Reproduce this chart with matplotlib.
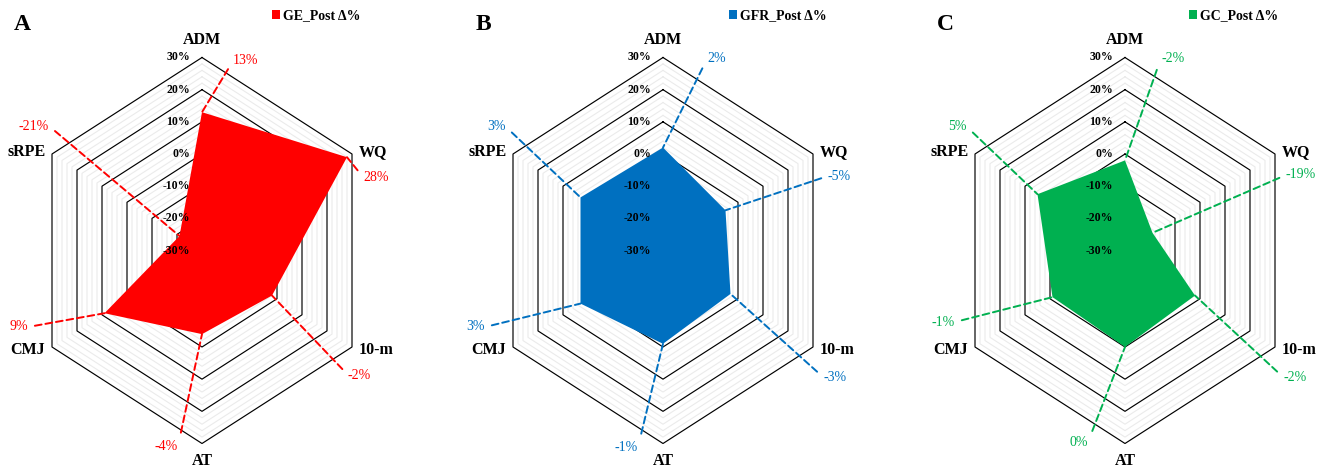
import numpy as np
import matplotlib
matplotlib.use('Agg')
import matplotlib.pyplot as plt
from matplotlib.patches import Patch

# ---------------- data ----------------
categories = ['ADM', 'WQ', '10-m', 'AT', 'CMJ', 'sRPE']
series_names = ['GE_Post Δ%', 'GFR_Post Δ%', 'GC_Post Δ%']
ge_values = [13, 28, -2, -4, 9, -21]
gfr_values = [2, -5, -3, -1, 3, 3]
gc_values = [-2, -19, -2, 0, -1, 5]
panel_letters = ['A', 'B', 'C']
tick_values = [30, 20, 10, 0, -10, -20, -30]
tick_labels = ['30%', '20%', '10%', '0%', '-10%', '-20%', '-30%']
r_min, r_max = -30, 30
major_step, minor_step = 10, 2

series_values = [ge_values, gfr_values, gc_values]
data_labels = [[f'{v}%' for v in vals] for vals in series_values]

# ---------------- style / layout ----------------
colors = ['#FF0000', '#0070C0', '#00B050']
W, H = 1328, 473
SERIF = ['Liberation Serif', 'DejaVu Serif']
panel_cx = [202, 663, 1125]
center_y = 250.5
ry = 193.0
rx = 150.0 / np.cos(np.pi / 6)

# category label offsets (pixels) and alignment
cat_offsets = [(0, 18), (7, 2), (7, -3), (0, -17), (-7, -3), (-6, 2)]
cat_ha = ['center', 'left', 'left', 'center', 'right', 'right']

# data label anchor positions in reference pixels (x, y from top) and alignment
label_pos = [
    [(233, 61), (363, 177), (348, 375), (178, 446), (28, 327), (49, 126)],
    [(707, 59), (828, 176), (823, 377), (638, 447), (485, 327), (506, 127)],
    [(1161, 58), (1286, 175), (1283, 377), (1088, 442), (955, 322), (967, 127)],
]
label_ha = ['left', 'left', 'left', 'right', 'right', 'right']
letter_x = [14, 476, 937]
legend_x = [272, 729, 1189]

fig = plt.figure(figsize=(W / 100, H / 100), dpi=100)

n = len(categories)
theta = np.arange(n) * 2 * np.pi / n
theta_closed = np.append(theta, theta[0])

for p in range(3):
    cx = panel_cx[p]
    rect = [(cx - rx) / W, (H - (center_y + ry)) / H, 2 * rx / W, 2 * ry / H]
    ax = fig.add_axes(rect, projection='polar')
    ax.set_aspect('auto')
    ax.set_theta_zero_location('N')
    ax.set_theta_direction(-1)
    ax.set_ylim(r_min, r_max)
    ax.grid(False)
    ax.set_xticks([])
    ax.set_yticks([])
    ax.spines['polar'].set_visible(False)
    ax.patch.set_visible(False)

    # hexagonal grid
    for r in np.arange(r_min + minor_step, r_max + 0.1, minor_step):
        if abs(r % major_step) < 1e-9:
            continue
        ax.plot(theta_closed, [r] * (n + 1), color='#ebebeb', lw=0.8,
                zorder=1, clip_on=False)
    for r in np.arange(r_min + major_step, r_max + 0.1, major_step):
        ax.plot(theta_closed, [r] * (n + 1), color='black', lw=0.85,
                zorder=2, clip_on=False)

    vals = series_values[p]
    ax.fill(theta_closed, list(vals) + [vals[0]], color=colors[p], lw=0,
            zorder=3, label=series_names[p], clip_on=False)

    # radial tick labels
    for tv, tl in zip(tick_values, tick_labels):
        ax.annotate(tl, xy=(0, tv), xytext=(-12, 0), textcoords='offset pixels',
                    ha='right', va='center', fontsize=8.5, fontweight='bold',
                    family=SERIF, zorder=6)

    # category labels
    for i, cat in enumerate(categories):
        ax.annotate(cat, xy=(theta[i], r_max), xytext=cat_offsets[i],
                    textcoords='offset pixels', ha=cat_ha[i], va='center',
                    fontsize=11.5, fontweight='bold', family=SERIF,
                    annotation_clip=False)

    # data labels with dashed leader lines
    for i in range(n):
        lx, ly = label_pos[p][i]
        relx = 0 if label_ha[i] == 'left' else 1
        ax.annotate(data_labels[p][i], xy=(theta[i], vals[i]),
                    xytext=(lx / W, 1 - ly / H), textcoords='figure fraction',
                    ha=label_ha[i], va='center', fontsize=10, family=SERIF,
                    color=colors[p], annotation_clip=False, zorder=7,
                    arrowprops=dict(arrowstyle='-', color=colors[p], lw=1.4,
                                    linestyle=(0, (3.5, 2)), shrinkA=3, shrinkB=0,
                                    relpos=(relx, 0.5)))

    # panel letter
    fig.text(letter_x[p] / W, 1 - 30 / H, panel_letters[p], fontsize=17,
             fontweight='bold', family=SERIF, va='baseline', ha='left')

    # legend
    leg = ax.legend(handles=[Patch(facecolor=colors[p], edgecolor='none',
                                   label=series_names[p])],
                    loc='center left', bbox_to_anchor=(legend_x[p] / W, 1 - 15.5 / H),
                    bbox_transform=fig.transFigure, frameon=False,
                    handlelength=0.6, handleheight=0.6, handletextpad=0.2,
                    borderpad=0, borderaxespad=0,
                    prop={'family': SERIF, 'weight': 'bold', 'size': 10})

fig.savefig('out.png', dpi=100)
